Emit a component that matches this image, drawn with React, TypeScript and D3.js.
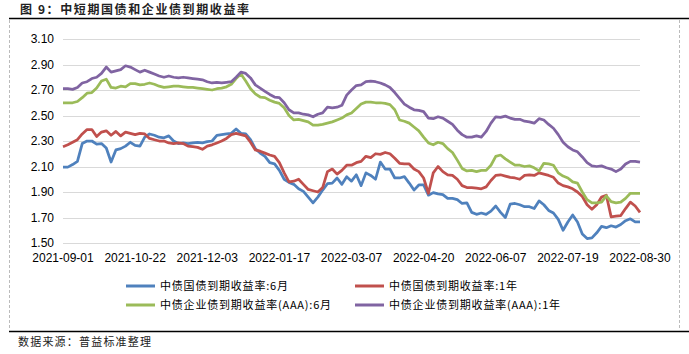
import * as d3 from "d3";

// x-axis tick labels (trading dates)
const dateLabels = [
  "2021-09-01", "2021-10-22", "2021-12-03", "2022-01-17", "2022-03-07",
  "2022-04-20", "2022-06-07", "2022-07-19", "2022-08-30",
];

const yTicks = [1.5, 1.7, 1.9, 2.1, 2.3, 2.5, 2.7, 2.9, 3.1];

// 中债国债到期收益率:6月
const gov6m = [
  2.095, 2.095, 2.115, 2.14, 2.28, 2.3, 2.3, 2.275, 2.28, 2.245,
  2.135, 2.23, 2.24, 2.26, 2.29, 2.265, 2.26, 2.33, 2.355, 2.345,
  2.33, 2.325, 2.34, 2.3, 2.28, 2.285, 2.28, 2.285, 2.29, 2.285,
  2.295, 2.3, 2.345, 2.35, 2.355, 2.36, 2.395, 2.36, 2.355, 2.31,
  2.24, 2.205, 2.18, 2.13, 2.12, 2.07, 2.0, 1.975, 1.96, 1.925,
  1.905, 1.86, 1.815, 1.86, 1.915, 1.965, 1.97, 2.01, 1.96, 2.02,
  1.985, 2.035, 1.95, 2.05, 2.03, 2.0, 2.135, 2.08, 2.08, 2.01,
  2.01, 2.02, 1.97, 1.915, 1.955, 1.955, 1.875, 1.895, 1.885, 1.88,
  1.85, 1.85, 1.84, 1.81, 1.815, 1.74, 1.725, 1.735, 1.725, 1.75,
  1.79, 1.74, 1.7, 1.805, 1.81, 1.8, 1.785, 1.785, 1.77, 1.83,
  1.8, 1.755, 1.735, 1.685, 1.6, 1.665, 1.72, 1.665, 1.57, 1.535,
  1.54, 1.58, 1.63, 1.62, 1.635, 1.625, 1.645, 1.675, 1.69, 1.665,
  1.665,
];

// 中债国债到期收益率:1年
const gov1y = [
  2.255, 2.27, 2.29, 2.31, 2.355, 2.39, 2.39, 2.335, 2.37, 2.38,
  2.345, 2.375, 2.34, 2.37, 2.36, 2.35, 2.36, 2.355, 2.32, 2.31,
  2.3, 2.3, 2.285, 2.28, 2.285, 2.28, 2.26, 2.255, 2.25, 2.235,
  2.26, 2.27, 2.285, 2.3, 2.32, 2.35, 2.36, 2.35, 2.34, 2.29,
  2.23, 2.22, 2.205, 2.19, 2.18, 2.13, 2.05, 1.98, 1.985, 2.0,
  1.96, 1.92, 1.91, 1.9, 1.935, 2.06, 2.08, 2.04, 2.07, 2.11,
  2.11, 2.13, 2.14, 2.18, 2.17, 2.2, 2.195, 2.21, 2.2, 2.165,
  2.125, 2.12, 2.12, 2.08, 2.06, 2.01, 1.89, 2.05, 2.1, 2.06,
  2.035, 2.03, 2.0, 1.95, 1.935, 1.935, 1.93, 1.925, 1.94, 1.99,
  2.03, 2.035, 2.025, 2.015, 2.01, 2.0, 2.03, 2.035, 2.03, 2.05,
  2.04, 2.03, 2.015, 1.97, 1.95, 1.94, 1.925, 1.9, 1.865, 1.8,
  1.765, 1.8, 1.86, 1.875, 1.705, 1.71, 1.715, 1.77, 1.82, 1.79,
  1.74,
];

// 中债企业债到期收益率(AAA):6月
const corp6m = [
  2.6, 2.6, 2.6, 2.61, 2.64, 2.675, 2.68, 2.715, 2.77, 2.785,
  2.72, 2.715, 2.73, 2.725, 2.75, 2.75, 2.74, 2.745, 2.755, 2.745,
  2.73, 2.72, 2.725, 2.73, 2.73, 2.725, 2.72, 2.72, 2.715, 2.71,
  2.705, 2.7, 2.71, 2.715, 2.725, 2.745, 2.79, 2.825, 2.77, 2.71,
  2.67, 2.645, 2.64, 2.62, 2.605, 2.595, 2.56, 2.5, 2.465, 2.47,
  2.46, 2.45, 2.425, 2.425, 2.43, 2.44, 2.45, 2.465, 2.48, 2.505,
  2.52, 2.555, 2.59, 2.605, 2.605, 2.6, 2.6, 2.595, 2.585, 2.545,
  2.465, 2.455, 2.44, 2.41, 2.38, 2.33, 2.285, 2.27, 2.29, 2.28,
  2.24, 2.21, 2.15, 2.085, 2.065, 2.07, 2.06, 2.07, 2.07, 2.11,
  2.18, 2.19, 2.16, 2.135, 2.11, 2.11, 2.1, 2.105, 2.09, 2.065,
  2.125, 2.12, 2.11, 2.05, 2.025, 2.01, 1.98, 1.97, 1.9, 1.84,
  1.815, 1.815, 1.82, 1.87, 1.825, 1.815, 1.82, 1.85, 1.89, 1.89,
  1.89,
];

// 中债企业债到期收益率(AAA):1年
const corp1y = [
  2.71, 2.71, 2.705, 2.72, 2.755, 2.765, 2.79, 2.8, 2.83, 2.88,
  2.84, 2.85, 2.86, 2.89, 2.88, 2.86, 2.84, 2.855, 2.84, 2.825,
  2.81, 2.8, 2.81, 2.8, 2.795, 2.8, 2.795, 2.79, 2.785, 2.78,
  2.765, 2.755, 2.76, 2.755, 2.76, 2.765, 2.8, 2.84, 2.83, 2.795,
  2.74, 2.715, 2.69, 2.665, 2.645, 2.64, 2.6, 2.545, 2.52, 2.52,
  2.51, 2.505, 2.49, 2.51, 2.52, 2.565, 2.56, 2.565, 2.58, 2.66,
  2.7, 2.735, 2.74, 2.765, 2.77, 2.765, 2.755, 2.74, 2.72, 2.68,
  2.635, 2.59, 2.565, 2.545, 2.54, 2.53, 2.48, 2.475, 2.49, 2.48,
  2.455, 2.43, 2.385, 2.35, 2.33, 2.33, 2.34, 2.33, 2.375, 2.44,
  2.49, 2.485, 2.495, 2.48, 2.47, 2.47, 2.455, 2.45, 2.44, 2.475,
  2.465, 2.43, 2.4, 2.35, 2.29, 2.255, 2.23, 2.215, 2.175, 2.13,
  2.105, 2.1, 2.105, 2.09, 2.08, 2.06, 2.08, 2.12, 2.14, 2.14,
  2.135,
];

const series = [
  { name: "中债国债到期收益率:6月", values: gov6m, color: "#4F81BD" },
  { name: "中债国债到期收益率:1年", values: gov1y, color: "#C0504D" },
  { name: "中债企业债到期收益率(AAA):6月", values: corp6m, color: "#9BBB59" },
  { name: "中债企业债到期收益率(AAA):1年", values: corp1y, color: "#8064A2" },
];

const W = 689;
const H = 354;
const left = 63;
const right = 640;
const top = 39;
const bottom = 243;

export default function App() {
  const n = gov6m.length;
  const x = d3.scaleLinear().domain([0, n - 1]).range([left, right]);
  const y = d3.scaleLinear().domain([1.5, 3.1]).range([bottom, top]);
  const line = d3
    .line<number>()
    .x((_, i) => x(i))
    .y((d) => y(d));

  const labelIdx = dateLabels.map((_, i) => (i * (n - 1)) / (dateLabels.length - 1));
  const cjk = '"Noto Sans CJK SC", "Noto Sans", sans-serif';
  const latin = '"Liberation Sans", Arial, sans-serif';

  return (
    <svg
      width={W}
      height={H}
      style={{ position: "absolute", left: 0, top: 0, background: "#fff" }}
    >
      {/* title */}
      <text
        x={20}
        y={14}
        fontFamily={cjk}
        fontSize={12}
        fontWeight="bold"
        letterSpacing={1.6}
        fill="#222"
      >
        图 9：中短期国债和企业债到期收益率
      </text>
      <line x1={9} x2={689} y1={18.5} y2={18.5} stroke="#000" strokeWidth={1.5} />
      <line x1={9} x2={689} y1={331.5} y2={331.5} stroke="#000" strokeWidth={1.5} />
      <line x1={9.5} x2={9.5} y1={20} y2={331} stroke="#bbb" strokeDasharray="3,2" />
      <line x1={679.5} x2={679.5} y1={20} y2={331} stroke="#bbb" strokeDasharray="3,2" />

      {/* grid + y labels */}
      {yTicks.map((t) => (
        <g key={t}>
          <line
            x1={left}
            x2={right}
            y1={Math.round(y(t)) + 0.5}
            y2={Math.round(y(t)) + 0.5}
            stroke="#d9d9d9"
            strokeWidth={1}
          />
          <text
            x={54}
            y={y(t)}
            dy="0.35em"
            textAnchor="end"
            fontFamily={latin}
            fontSize={12}
            fill="#000"
          >
            {t.toFixed(2)}
          </text>
        </g>
      ))}

      {/* x labels */}
      {dateLabels.map((d, i) => (
        <text
          key={d}
          x={x(labelIdx[i])}
          y={262}
          textAnchor="middle"
          fontFamily={latin}
          fontSize={12}
          fill="#000"
        >
          {d}
        </text>
      ))}

      {/* lines */}
      {series.map((s) => (
        <path
          key={s.name}
          d={line(s.values) ?? ""}
          fill="none"
          stroke={s.color}
          strokeWidth={2.75}
          strokeLinejoin="round"
        />
      ))}

      {/* legend */}
      {series.map((s, i) => {
        const lx = i % 2 === 0 ? 126 : 355;
        const ly = i < 2 ? 286 : 305;
        return (
          <g key={s.name}>
            <line x1={lx} x2={lx + 29} y1={ly} y2={ly} stroke={s.color} strokeWidth={3} />
            <text
              x={lx + 34}
              y={ly}
              dy="0.35em"
              fontFamily={cjk}
              fontSize={11}
              letterSpacing={0.8}
              fill="#000"
            >
              {s.name}
            </text>
          </g>
        );
      })}

      {/* source */}
      <text x={18} y={346} fontFamily={cjk} fontSize={11} letterSpacing={1.2} fill="#222">
        数据来源：普益标准整理
      </text>
    </svg>
  );
}
